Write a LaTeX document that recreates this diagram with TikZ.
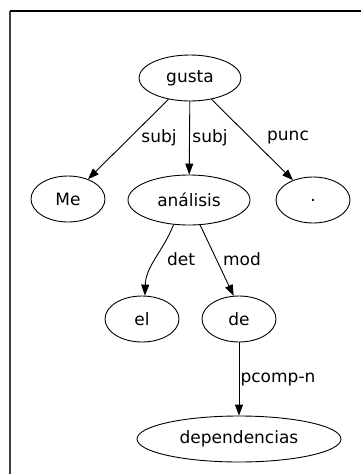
\documentclass[tikz,border=0pt]{standalone}
\usepackage{fontspec}
\setmainfont{DejaVu Sans}
\usetikzlibrary{shapes.geometric,arrows.meta}

\tikzset{
  word/.style={draw, ellipse, line width=.9pt, inner sep=0pt, minimum height=46pt, minimum width=74pt},
  dep/.style={-{Triangle[length=11pt,width=8pt]}, line width=.9pt},
  rel/.style={inner sep=0pt}
}

\begin{document}
\begin{tikzpicture}[x=1pt, y=-1pt, font=\fontsize{17}{20}\selectfont]
  \useasboundingbox (0,0) rectangle (361,474);
  \draw[line width=1.5pt, black!75] (10,474) -- (10,11);
  \draw[line width=1.2pt] (10,11) -- (361,11);

  \node[word, minimum width=102pt] (gusta) at (190,78) {gusta};
  \node[word] (me) at (68,199) {Me};
  \node[word, minimum width=122pt, minimum height=50pt] (analisis) at (189,200) {análisis};
  \node[word] (punto) at (313,200) {.};
  \node[word] (el) at (142,319) {el};
  \node[word] (de) at (239,319) {de};
  \node[word, minimum width=204pt] (dependencias) at (239,439) {dependencias};

  \draw[dep] (gusta) -- (me);
  \draw[dep] (gusta) -- (analisis);
  \draw[dep] (gusta) -- (punto);
  \draw[dep] (analisis.-122) to[out=-112, in=88] (el.83);
  \draw[dep] (analisis.-66) -- (de.103);
  \draw[dep] (de) -- (dependencias);

  \node[rel] (l1) at (159,138) {subj};
  \node[rel] (l2) at (210,138) {subj};
  \node[rel] (l3) at (288,138) {punc};
  \node[rel] (l4) at (181,259) {det};
  \node[rel] (l5) at (242,259) {mod};
  \node[rel] (l6) at (278,380) {pcomp-n};
\end{tikzpicture}
\end{document}
